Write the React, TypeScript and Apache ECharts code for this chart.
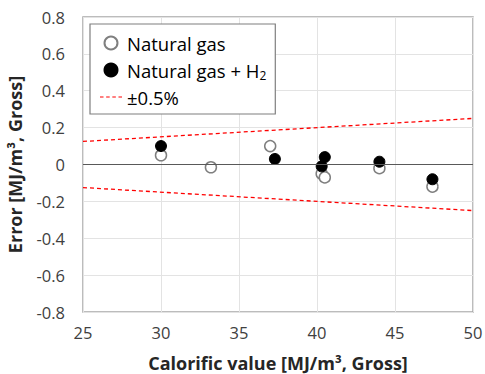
import React, { useEffect, useRef } from "react";
import * as echarts from "echarts";

const naturalGas: [number, number][] = [
  [30.0, 0.05],
  [33.2, -0.015],
  [37.0, 0.1],
  [40.3, -0.05],
  [40.5, -0.07],
  [44.0, -0.02],
  [47.4, -0.12],
];

const naturalGasH2: [number, number][] = [
  [30.0, 0.1],
  [37.3, 0.03],
  [40.5, 0.04],
  [40.3, -0.01],
  [44.0, 0.015],
  [47.4, -0.08],
];

const upperBand: [number, number][] = [
  [25, 0.125],
  [50, 0.25],
];
const lowerBand: [number, number][] = [
  [25, -0.125],
  [50, -0.25],
];

const xTicks = { min: 25, max: 50, interval: 5 };
const yTicks = { min: -0.8, max: 0.8, interval: 0.2 };

const FONT = "'Open Sans', 'Liberation Sans', Arial, sans-serif";

export default function App() {
  const ref = useRef<HTMLDivElement>(null);
  useEffect(() => {
    document.body.style.margin = "0";
    if (!ref.current) return;
    const chart = echarts.init(ref.current, null, { renderer: "svg" });
    chart.setOption({
      animation: false,
      backgroundColor: "#ffffff",
      textStyle: { fontFamily: FONT },
      grid: {
        left: 83,
        top: 17,
        right: 12,
        bottom: 62,
        show: true,
        borderColor: "#a6a6a6",
        borderWidth: 1.5,
        containLabel: false,
        outerBoundsMode: "none",
      },
      legend: {
        orient: "vertical",
        left: 90,
        top: 24,
        padding: [8, 9, 6, 10],
        borderColor: "#7f7f7f",
        borderWidth: 1.2,
        backgroundColor: "#ffffff",
        itemWidth: 22,
        itemHeight: 13,
        itemGap: 5,
        data: [
          { name: "Natural gas" },
          { name: "Natural gas + H2" },
          {
            name: "±0.5%",
            icon: "path://M0,0h4v1.3h-4z M7,0h4v1.3h-4z M14,0h4v1.3h-4z M21,0h4v1.3h-4z",
            itemStyle: { color: "#ff0000", borderWidth: 0 },
          },
        ],
        formatter: (name: string) =>
          name === "Natural gas + H2" ? "Natural gas + H{sub|2}" : name,
        textStyle: {
          fontFamily: FONT,
          fontSize: 18.5,
          color: "#000000",
          lineHeight: 22,
          rich: {
            sub: {
              fontSize: 12,
              lineHeight: 12,
              verticalAlign: "bottom",
              fontFamily: FONT,
              color: "#000000",
            },
          },
        },
      },
      xAxis: {
        type: "value",
        min: xTicks.min,
        max: xTicks.max,
        interval: xTicks.interval,
        name: "Calorific value [MJ/m³, Gross]",
        nameLocation: "middle",
        nameGap: 41,
        nameTextStyle: {
          fontFamily: FONT,
          fontSize: 18,
          lineHeight: 20,
          fontWeight: "bold",
          color: "#262626",
        },
        axisLine: { show: false },
        axisTick: { show: false },
        axisLabel: {
          margin: 12,
          fontFamily: FONT,
          fontSize: 16.5,
          color: "#404040",
        },
        splitLine: { show: true, lineStyle: { color: "#e3e3e3", width: 1 } },
      },
      yAxis: {
        type: "value",
        min: yTicks.min,
        max: yTicks.max,
        interval: yTicks.interval,
        name: "Error [MJ/m³, Gross]",
        nameLocation: "middle",
        nameGap: 58,
        nameTextStyle: {
          fontFamily: FONT,
          fontSize: 18,
          lineHeight: 20,
          fontWeight: "bold",
          color: "#262626",
        },
        axisLine: { show: false },
        axisTick: { show: false },
        axisLabel: {
          margin: 18,
          fontFamily: FONT,
          fontSize: 16.5,
          color: "#404040",
          formatter: (v: number) => (Math.abs(v) < 1e-9 ? "0" : v.toFixed(1)),
        },
        splitLine: { show: true, lineStyle: { color: "#e3e3e3", width: 1 } },
      },
      series: [
        {
          name: "±0.5%",
          type: "line",
          data: upperBand,
          symbol: "none",
          silent: true,
          lineStyle: { color: "#ff0000", width: 1.3, type: [4, 3] },
          itemStyle: { color: "#ff0000" },
          markLine: {
            silent: true,
            symbol: "none",
            label: { show: false },
            lineStyle: { color: "#595959", width: 1, type: "solid" },
            data: [{ yAxis: 0 }],
          },
        },
        {
          name: "±0.5%",
          type: "line",
          data: lowerBand,
          symbol: "none",
          silent: true,
          lineStyle: { color: "#ff0000", width: 1.3, type: [4, 3] },
          itemStyle: { color: "#ff0000" },
        },
        {
          name: "Natural gas",
          type: "scatter",
          data: naturalGas,
          symbol: "circle",
          symbolSize: 11,
          itemStyle: {
            color: "#ffffff",
            borderColor: "#7f7f7f",
            borderWidth: 1.5,
            opacity: 1,
          },
        },
        {
          name: "Natural gas + H2",
          type: "scatter",
          data: naturalGasH2,
          symbol: "circle",
          symbolSize: 11,
          itemStyle: {
            color: "#000000",
            borderColor: "#000000",
            borderWidth: 1,
            opacity: 1,
          },
        },
      ],
    });
    return () => chart.dispose();
  }, []);
  return <div ref={ref} style={{ width: 485, height: 374 }} />;
}
